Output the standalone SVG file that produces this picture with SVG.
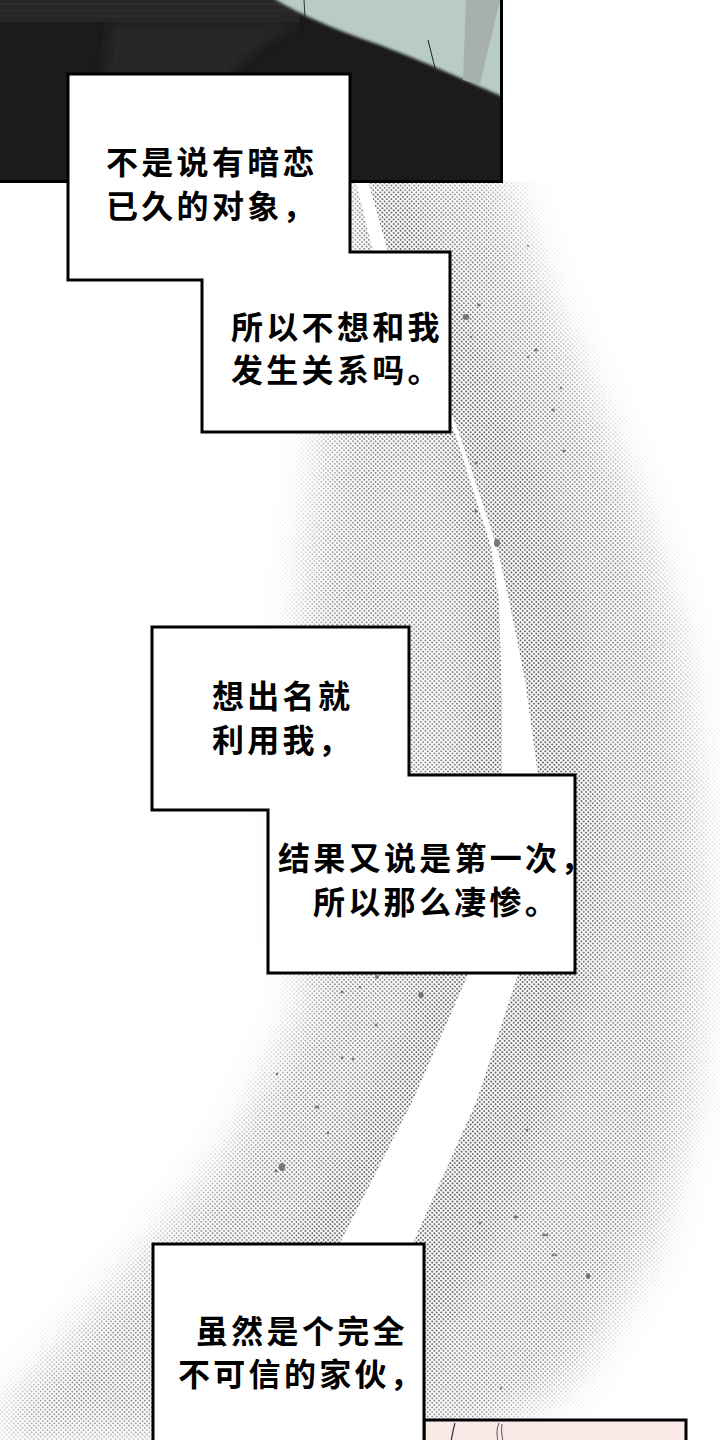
<svg xmlns="http://www.w3.org/2000/svg" width="720" height="1440" viewBox="0 0 720 1440">
<defs>
<style>
.box{fill:#fff;stroke:#000;stroke-width:3;stroke-linejoin:miter}
.t{font-family:"Noto Sans CJK SC","Noto Sans",sans-serif;font-weight:700;fill:#000;font-size:32px;letter-spacing:3.3px}
.sp{fill:#777}
</style>
<pattern id="dots" width="3.2" height="3.2" patternUnits="userSpaceOnUse" patternTransform="rotate(45)">
<circle cx="1.6" cy="1.6" r="1.05" fill="#666"/>
</pattern>
<filter id="soft" x="-30%" y="-30%" width="160%" height="160%"><feGaussianBlur stdDeviation="22"/></filter>
<filter id="soft2" x="-30%" y="-30%" width="160%" height="160%"><feGaussianBlur stdDeviation="16"/></filter>
<filter id="edge" x="-10%" y="-10%" width="120%" height="120%"><feGaussianBlur stdDeviation="1.6"/></filter>
<filter id="edge2" x="-20%" y="-20%" width="140%" height="140%"><feGaussianBlur stdDeviation="6"/></filter>
<mask id="bandMask" maskUnits="userSpaceOnUse" x="0" y="0" width="720" height="1440">
<path filter="url(#soft)" fill="#bcbcbc" d="M352,170 L338,300 L322,450 L306,600 L298,800 L300,950 L310,1000 L235,1150 L165,1235 L55,1360 L0,1420 L0,1440 L470,1440 L570,1380 L650,1250 L690,1100 L700,950 L695,800 L678,650 L640,520 L590,400 L540,290 L510,200 L500,170 Z"/>
<path filter="url(#soft2)" fill="#ffffff" d="M360,180 L375,260 L420,380 L455,480 L470,600 L465,760 L445,900 L395,1050 L315,1200 L245,1320 L195,1440 L390,1440 L450,1320 L530,1170 L585,1000 L600,850 L592,700 L570,560 L530,440 L470,320 L405,180 Z"/>
</mask>
<clipPath id="topClip"><rect x="0" y="0" width="502" height="181"/></clipPath>
</defs>
<rect x="0" y="0" width="720" height="1440" fill="#fff"/>
<g id="background-halftone">
<rect x="0" y="181" width="720" height="1259" fill="url(#dots)" mask="url(#bandMask)"/>
<path id="streak" fill="#fff" d="M356,182 L373,252 L455,433 L491,547 L499,600 L502,700 L502,775 L492,900 L467,977 L413,1100 L340,1243 L300,1320 L375,1320 L413,1243 L477,1100 L517,977 L535,880 L538,775 L525,680 L509,600 L497,547 L459,433 L388,252 L368,182 Z"/>
<g id="speckles">
<ellipse class="sp" cx="466" cy="317" rx="3.5" ry="3"/>
<ellipse class="sp" cx="479" cy="305" rx="1.8" ry="1.5"/>
<ellipse class="sp" cx="471" cy="337" rx="1.3" ry="1.3"/>
<ellipse class="sp" cx="528" cy="246" rx="1" ry="1"/>
<ellipse class="sp" cx="536" cy="350" rx="1.8" ry="1.5"/>
<ellipse class="sp" cx="528" cy="357" rx="1.2" ry="1.2"/>
<ellipse class="sp" cx="561" cy="388" rx="1.2" ry="1.2"/>
<ellipse class="sp" cx="553" cy="410" rx="1.8" ry="1.4"/>
<ellipse class="sp" cx="564" cy="451" rx="1.6" ry="1.2"/>
<ellipse class="sp" cx="476" cy="463" rx="1.6" ry="1.6"/>
<ellipse class="sp" cx="476" cy="511" rx="1.6" ry="1.6"/>
<ellipse class="sp" cx="497" cy="543" rx="3" ry="4"/>
<ellipse class="sp" cx="377" cy="977" rx="2" ry="2"/>
<ellipse class="sp" cx="342" cy="992" rx="1.5" ry="1.2"/>
<ellipse class="sp" cx="360" cy="987" rx="1.4" ry="1.2"/>
<ellipse class="sp" cx="421" cy="995" rx="2.6" ry="3.2"/>
<ellipse class="sp" cx="376" cy="1025" rx="1.6" ry="1.6"/>
<ellipse class="sp" cx="342" cy="1058" rx="1.4" ry="1.4"/>
<ellipse class="sp" cx="353" cy="1059" rx="1.4" ry="1.2"/>
<ellipse class="sp" cx="277" cy="1074" rx="1.2" ry="1.2"/>
<ellipse class="sp" cx="317" cy="1107" rx="2.4" ry="1.4"/>
<ellipse class="sp" cx="328" cy="1133" rx="1.2" ry="1.2"/>
<ellipse class="sp" cx="282" cy="1167" rx="3.2" ry="4"/>
<ellipse class="sp" cx="276" cy="1171" rx="1.6" ry="1.4"/>
<ellipse class="sp" cx="527" cy="1130" rx="1.2" ry="1.2"/>
<ellipse class="sp" cx="515" cy="1217" rx="1.4" ry="1.8"/>
<ellipse class="sp" cx="480" cy="1223" rx="1.4" ry="1.2"/>
<ellipse class="sp" cx="544" cy="1235" rx="1.8" ry="1.4"/>
<ellipse class="sp" cx="553" cy="1255" rx="1.6" ry="1.2"/>
<ellipse class="sp" cx="588" cy="1276" rx="2.2" ry="3"/>
<ellipse class="sp" cx="547" cy="1235" rx="1.2" ry="1.2"/>
<ellipse class="sp" cx="556" cy="1255" rx="1.2" ry="1.2"/>
<ellipse class="sp" cx="517" cy="1217" rx="1.2" ry="1.2"/>
<ellipse class="sp" cx="501" cy="1388" rx="1" ry="1.5"/>
</g>
</g>
<g id="panel-top">
<g clip-path="url(#topClip)">
<rect x="0" y="0" width="502" height="181" fill="#1b1b1b"/>
<path filter="url(#edge2)" fill="#262626" d="M100,181 C98,120 105,60 112,22 L300,22 C250,50 200,90 170,181 Z"/>
<rect x="0" y="0" width="300" height="22" fill="#262626"/>
<g stroke="#333" stroke-width="1"><line x1="0" y1="4" x2="300" y2="4"/><line x1="0" y1="10" x2="290" y2="10"/><line x1="0" y1="16" x2="280" y2="16"/></g>
<path filter="url(#edge)" fill="#b8cbc7" d="M268,-5 L510,-5 L510,97 L503,97 C470,82 420,60 380,45 C330,28 295,12 268,-5 Z"/>
<polygon fill="#a6b0ac" points="466,0 500,0 480,84 463,80"/>
<line x1="428" y1="40" x2="436" y2="72" stroke="#222" stroke-width="1"/>
<line x1="304" y1="0" x2="305" y2="18" stroke="#333" stroke-width="1"/>
</g>
<path d="M501.5,0 L501.5,181.5 L0,181.5" fill="none" stroke="#000" stroke-width="3"/>
</g>
<g id="panel-bottom">
<rect x="424" y="1420" width="262" height="30" fill="#fae9e6" stroke="#000" stroke-width="3"/>
<path d="M455,1423 C453,1430 452,1436 451,1442" fill="none" stroke="#333" stroke-width="1.2"/>
<path d="M499,1423 C496,1430 497,1436 498,1442 M502,1424 C501,1430 502,1436 503,1442" fill="none" stroke="#555" stroke-width="1"/>
</g>
<g id="caption-1">
<polygon class="box" points="68,74 350,74 350,252 450,252 450,432 202,432 202,280 68,280"/>
<text class="t"><tspan x="106" y="174">不是说有暗恋</tspan><tspan x="106" y="218">已久的对象，</tspan></text>
<text class="t"><tspan x="231" y="339">所以不想和我</tspan><tspan x="231" y="382">发生关系吗。</tspan></text>
</g>
<g id="caption-2">
<polygon class="box" points="152,627 409,627 409,775 575,775 575,973 268,973 268,810 152,810"/>
<text class="t"><tspan x="212" y="708">想出名就</tspan><tspan x="212" y="752">利用我，</tspan></text>
<text class="t"><tspan x="278" y="870">结果又说是第一次，</tspan><tspan x="313" y="914">所以那么凄惨。</tspan></text>
</g>
<g id="caption-3">
<rect class="box" x="153" y="1244" width="271" height="210"/>
<text class="t"><tspan x="196" y="1343">虽然是个完全</tspan><tspan x="178" y="1386">不可信的家伙，</tspan></text>
</g>
<g id="connectors"/>
</svg>
